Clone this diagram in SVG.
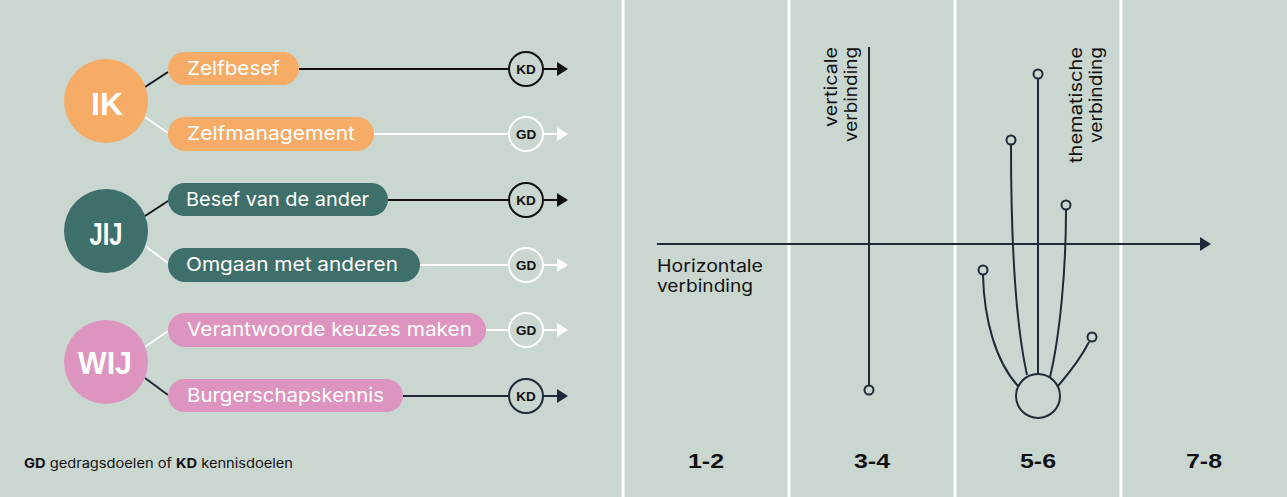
<svg xmlns="http://www.w3.org/2000/svg" width="1287" height="497" viewBox="0 0 1287 497">
<style>
.bg{fill:#cad7d1}
.div{stroke:#ffffff;stroke-width:3}
.pilltxt{font-family:Inter,"Liberation Sans",sans-serif;font-size:19px;fill:#ffffff}
.big{font-family:"Liberation Sans",Arial,sans-serif;font-weight:bold;font-size:32px;fill:#ffffff;text-anchor:middle}
.tag{font-family:"Liberation Sans",Arial,sans-serif;font-weight:bold;font-size:13.5px;fill:#111111;text-anchor:middle}
.kd{fill:none;stroke:#111111;stroke-width:2}
.gd{fill:none;stroke:#ffffff;stroke-width:2}
.nav{fill:none;stroke:#1e2a36;stroke-width:2}
.dot{fill:#cad7d1;stroke:#1e2a36;stroke-width:2}
.lbl{font-family:Inter,"Liberation Sans",sans-serif;font-size:17px;fill:#111111}
.yr{font-family:"Liberation Sans",Arial,sans-serif;font-weight:bold;font-size:20px;fill:#111111;text-anchor:middle}
</style>
<defs>
<marker id="ak" viewBox="0 0 11 14" refX="0" refY="7" markerWidth="11" markerHeight="14" markerUnits="userSpaceOnUse" orient="auto"><path d="M0,0 L11,7 L0,14 Z" fill="#111111"/></marker>
<marker id="ag" viewBox="0 0 11 14" refX="0" refY="7" markerWidth="11" markerHeight="14" markerUnits="userSpaceOnUse" orient="auto"><path d="M0,0 L11,7 L0,14 Z" fill="#ffffff"/></marker>
<marker id="an" viewBox="0 0 11 14" refX="0" refY="7" markerWidth="11" markerHeight="14" markerUnits="userSpaceOnUse" orient="auto"><path d="M0,0 L11,7 L0,14 Z" fill="#1e2a36"/></marker>
</defs>
<rect class="bg" x="0" y="0" width="1287" height="497"/>
<g id="dividers">
<line class="div" x1="623" y1="0" x2="623" y2="497"/>
<line class="div" x1="789" y1="0" x2="789" y2="497"/>
<line class="div" x1="955" y1="0" x2="955" y2="497"/>
<line class="div" x1="1121" y1="0" x2="1121" y2="497"/>
</g>
<g id="connectors">
<line x1="145" y1="87" x2="168" y2="72" stroke="#111111" stroke-width="2"/>
<line x1="145" y1="117" x2="168" y2="133" stroke="#ffffff" stroke-width="2"/>
<line x1="145" y1="216" x2="168" y2="201" stroke="#111111" stroke-width="2"/>
<line x1="145" y1="246" x2="168" y2="263" stroke="#ffffff" stroke-width="2"/>
<line x1="145" y1="347" x2="168" y2="331" stroke="#ffffff" stroke-width="2"/>
<line x1="145" y1="378" x2="168" y2="395" stroke="#1e2a36" stroke-width="2"/>
<line x1="299" y1="69" x2="509" y2="69" stroke="#111111" stroke-width="2"/>
<line x1="543" y1="69" x2="557" y2="69" stroke="#111111" stroke-width="2" marker-end="url(#ak)"/>
<line x1="374" y1="134" x2="509" y2="134" stroke="#ffffff" stroke-width="2"/>
<line x1="543" y1="134" x2="557" y2="134" stroke="#ffffff" stroke-width="2" marker-end="url(#ag)"/>
<line x1="388" y1="200" x2="509" y2="200" stroke="#111111" stroke-width="2"/>
<line x1="543" y1="200" x2="557" y2="200" stroke="#111111" stroke-width="2" marker-end="url(#ak)"/>
<line x1="420" y1="265" x2="509" y2="265" stroke="#ffffff" stroke-width="2"/>
<line x1="543" y1="265" x2="557" y2="265" stroke="#ffffff" stroke-width="2" marker-end="url(#ag)"/>
<line x1="486" y1="330" x2="509" y2="330" stroke="#ffffff" stroke-width="2"/>
<line x1="543" y1="330" x2="557" y2="330" stroke="#ffffff" stroke-width="2" marker-end="url(#ag)"/>
<line x1="403" y1="396" x2="509" y2="396" stroke="#1e2a36" stroke-width="2"/>
<line x1="543" y1="396" x2="557" y2="396" stroke="#1e2a36" stroke-width="2" marker-end="url(#an)"/>
</g>
<g id="ik">
<circle cx="106" cy="101" r="42" fill="#f6ab67"/>
<text class="big" x="107" y="115">IK</text>
</g>
<g id="zelfbesef">
<rect x="168" y="52" width="131" height="33" rx="16.5" fill="#f6ab67"/>
<text class="pilltxt" x="187" y="75" textLength="93" lengthAdjust="spacingAndGlyphs">Zelfbesef</text>
</g>
<g id="zelfmanagement">
<rect x="168" y="117" width="206" height="34" rx="17" fill="#f6ab67"/>
<text class="pilltxt" x="187" y="140" textLength="168" lengthAdjust="spacingAndGlyphs">Zelfmanagement</text>
</g>
<g id="jij">
<circle cx="106" cy="231" r="42" fill="#3e6f6a"/>
<text class="big" x="106" y="245" textLength="33" lengthAdjust="spacingAndGlyphs">JIJ</text>
</g>
<g id="besef">
<rect x="168" y="183" width="220" height="33" rx="16.5" fill="#3e6f6a"/>
<text class="pilltxt" x="186" y="206" textLength="183" lengthAdjust="spacingAndGlyphs">Besef van de ander</text>
</g>
<g id="omgaan">
<rect x="168" y="248" width="252" height="34" rx="17" fill="#3e6f6a"/>
<text class="pilltxt" x="186" y="271" textLength="212" lengthAdjust="spacingAndGlyphs">Omgaan met anderen</text>
</g>
<g id="wij">
<circle cx="106" cy="362" r="42" fill="#dd94bf"/>
<text class="big" x="105" y="374" textLength="54" lengthAdjust="spacingAndGlyphs">WIJ</text>
</g>
<g id="verantwoorde">
<rect x="168" y="313" width="318" height="34" rx="17" fill="#dd94bf"/>
<text class="pilltxt" x="187" y="336" textLength="285" lengthAdjust="spacingAndGlyphs">Verantwoorde keuzes maken</text>
</g>
<g id="burgerschap">
<rect x="168" y="379" width="235" height="33" rx="16.5" fill="#dd94bf"/>
<text class="pilltxt" x="187" y="402" textLength="197" lengthAdjust="spacingAndGlyphs">Burgerschapskennis</text>
</g>
<g id="kd1"><circle class="kd" cx="526" cy="69" r="17"/><text class="tag" x="526" y="74">KD</text></g>
<g id="gd1"><circle class="gd" cx="526" cy="134" r="17"/><text class="tag" x="526" y="139">GD</text></g>
<g id="kd2"><circle class="kd" cx="526" cy="200" r="17"/><text class="tag" x="526" y="205">KD</text></g>
<g id="gd2"><circle class="gd" cx="526" cy="265" r="17"/><text class="tag" x="526" y="270">GD</text></g>
<g id="gd3"><circle class="gd" cx="526" cy="330" r="17"/><text class="tag" x="526" y="335">GD</text></g>
<g id="kd3"><circle cx="526" cy="396" r="17" fill="none" stroke="#1e2a36" stroke-width="2"/><text class="tag" x="526" y="401">KD</text></g>
<g id="legend">
<text x="24" y="468" font-family="Inter,'Liberation Sans',sans-serif" font-size="13" fill="#111111" textLength="269" lengthAdjust="spacingAndGlyphs"><tspan font-weight="bold">GD</tspan> gedragsdoelen of <tspan font-weight="bold">KD</tspan> kennisdoelen</text>
</g>
<g id="horizontal">
<line class="nav" x1="657" y1="244" x2="1200" y2="244" marker-end="url(#an)"/>
<text class="lbl" x="657" y="272" textLength="106" lengthAdjust="spacingAndGlyphs">Horizontale</text>
<text class="lbl" x="657" y="292" textLength="96" lengthAdjust="spacingAndGlyphs">verbinding</text>
</g>
<g id="vertical">
<line class="nav" x1="869" y1="47" x2="869" y2="385"/>
<circle class="dot" cx="869" cy="390" r="4.5"/>
<text class="lbl" transform="translate(837,47) rotate(-90)" text-anchor="end" textLength="80" lengthAdjust="spacingAndGlyphs">verticale</text>
<text class="lbl" transform="translate(857,47) rotate(-90)" text-anchor="end" textLength="95" lengthAdjust="spacingAndGlyphs">verbinding</text>
</g>
<g id="thematic">
<line class="nav" x1="1038" y1="374" x2="1038" y2="79"/>
<path class="nav" d="M1027,375 C1017,330 1011,250 1011,145"/>
<path class="nav" d="M1050,377 C1060,335 1066,270 1066,210"/>
<path class="nav" d="M1018,386 C996,362 984,320 983,275"/>
<path class="nav" d="M1058,386 C1070,372 1082,356 1089,342"/>
<circle cx="1038" cy="396" r="22" fill="none" stroke="#1e2a36" stroke-width="2"/>
<circle class="dot" cx="1038" cy="74" r="4.5"/>
<circle class="dot" cx="1011" cy="140" r="4.5"/>
<circle class="dot" cx="1066" cy="205" r="4.5"/>
<circle class="dot" cx="983" cy="270" r="4.5"/>
<circle class="dot" cx="1092" cy="337" r="4.5"/>
<text class="lbl" transform="translate(1082,47) rotate(-90)" text-anchor="end" textLength="116" lengthAdjust="spacingAndGlyphs">thematische</text>
<text class="lbl" transform="translate(1102,47) rotate(-90)" text-anchor="end" textLength="96" lengthAdjust="spacingAndGlyphs">verbinding</text>
</g>
<g id="years">
<text class="yr" x="706" y="468" textLength="36" lengthAdjust="spacingAndGlyphs">1-2</text>
<text class="yr" x="872" y="468" textLength="36" lengthAdjust="spacingAndGlyphs">3-4</text>
<text class="yr" x="1038" y="468" textLength="36" lengthAdjust="spacingAndGlyphs">5-6</text>
<text class="yr" x="1204" y="468" textLength="36" lengthAdjust="spacingAndGlyphs">7-8</text>
</g>
</svg>
